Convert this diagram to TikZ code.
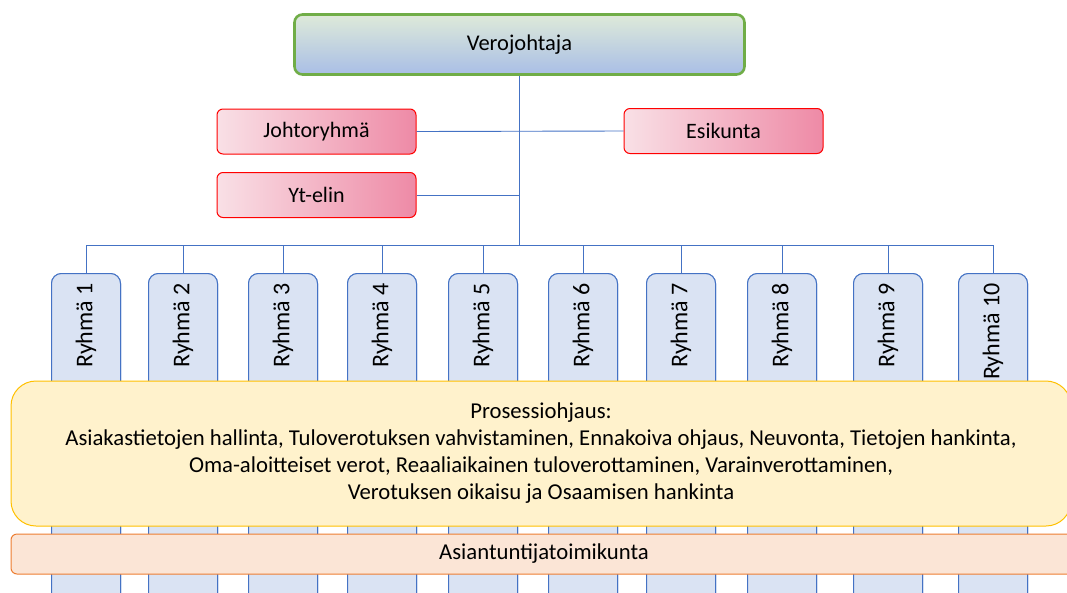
\documentclass[tikz,border=0pt]{standalone}
\usepackage{fontspec}
\setmainfont{Carlito}
\definecolor{lineblue}{HTML}{4472C4}
\definecolor{ryfill}{HTML}{DAE3F3}
\definecolor{bossgreen}{HTML}{70AD47}
\definecolor{bosstop}{HTML}{DEEAD9}
\definecolor{bossbot}{HTML}{A9BEE6}
\definecolor{redline}{HTML}{FF0000}
\definecolor{pinkl}{HTML}{F9E0E6}
\definecolor{pinkr}{HTML}{EE8AA6}
\definecolor{yelfill}{HTML}{FFF2CC}
\definecolor{yelline}{HTML}{FFC000}
\definecolor{orfill}{HTML}{FBE5D6}
\definecolor{orline}{HTML}{ED7D31}
\tikzset{
  conn/.style={draw=lineblue, line width=0.9pt},
  boss/.style={draw=bossgreen, line width=2.6pt, rounded corners=8pt, top color=bosstop, bottom color=bossbot, minimum width=450pt, minimum height=60pt, inner sep=0pt, font=\fontsize{22.5}{27}\selectfont},
  redbox/.style={draw=redline, line width=1pt, rounded corners=6pt, left color=pinkl, right color=pinkr, minimum width=199pt, minimum height=45pt, inner sep=0pt, font=\fontsize{22}{26}\selectfont},
  rybox/.style={draw=lineblue, line width=1pt, fill=ryfill, rounded corners=10pt, minimum width=69pt, minimum height=340pt, inner sep=0pt, anchor=north},
  rytext/.style={rotate=90, anchor=east, inner sep=0pt, font=\fontsize{24}{28}\selectfont},
  yelbox/.style={draw=yelline, line width=1pt, fill=yelfill, rounded corners=25pt, minimum width=1060pt, minimum height=145pt, inner sep=0pt, align=center, font=\fontsize{22.7}{27}\selectfont},
  orbox/.style={draw=orline, line width=1pt, fill=orfill, rounded corners=6pt, minimum width=1070pt, minimum height=40pt, inner sep=0pt},
  ortext/.style={inner sep=0pt, font=\fontsize{22.7}{27}\selectfont}
}
\begin{document}
\begin{tikzpicture}[x=1pt,y=-1pt]
\useasboundingbox (0,0) rectangle (1067,592);
\clip (0,0) rectangle (1067,592);
% top nodes
\node[boss] (vj) at (519.5,44.5) {Verojohtaja};
\node[redbox] (jr) at (316.5,131.5) {Johtoryhmä};
\node[redbox] (es) at (723.5,131) {Esikunta};
\node[redbox] (yt) at (316.5,195) {Yt-elin};
\coordinate (bus) at (519.5,245);
% group boxes
\foreach \i/\x in {1/86,2/183,3/283,4/382,5/483,6/583,7/681,8/782,9/888,10/993}{
  \node[rybox] (r\i) at (\x,273) {};
}
% connectors
\draw[conn] (vj.south) -- (bus);
\draw[conn] (jr.east) -- (es.west);
\draw[conn] (yt.east) -- (yt.east -| vj.south);
\foreach \i in {1,...,10}{
  \draw[conn] (bus) -| (r\i.north);
}
% redraw group boxes on top of connector ends, with their labels
\foreach \i/\x in {1/86,2/183,3/283,4/382,5/483,6/583,7/681,8/782,9/888,10/993}{
  \node[rybox] at (\x,273) {};
  \node[rytext] (t\i) at ([yshift=-10pt]r\i.north) {Ryhmä \i};
}
% process box
\node[yelbox] (pr) at (541,453.5) {Prosessiohjaus:\\Asiakastietojen hallinta, Tuloverotuksen vahvistaminen, Ennakoiva ohjaus, Neuvonta, Tietojen hankinta,\\Oma-aloitteiset verot, Reaaliaikainen tuloverottaminen, Varainverottaminen,\\Verotuksen oikaisu ja Osaamisen hankinta};
\node[orbox] (at) at (546,554) {};
\node[ortext] (att) at (544,554) {Asiantuntijatoimikunta};
\end{tikzpicture}
\end{document}
